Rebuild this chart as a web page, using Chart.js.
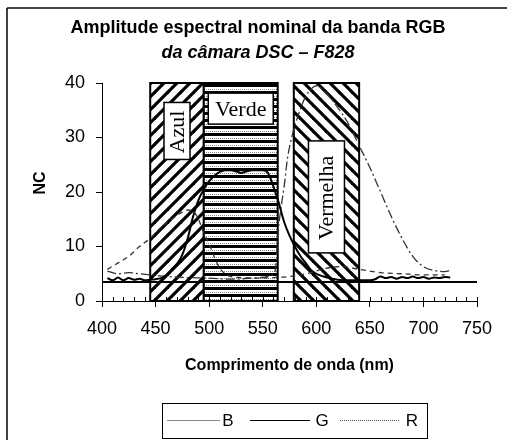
<!DOCTYPE html>
<html>
<head>
<meta charset="utf-8">
<script src="https://cdn.jsdelivr.net/npm/chart.js@4.4.0/dist/chart.umd.min.js"></script>
<style>
  html, body { margin: 0; padding: 0; background: #fff; }
</style>
</head>
<body>
<canvas id="myChart" width="507" height="440"></canvas>
<script>
// setup - values (nm / NC)
const wlB = [405, 415, 425, 435, 445, 455, 465, 475, 480, 485, 490, 495, 500, 505, 510, 515, 520, 530, 545, 560, 575, 585, 595, 605, 615, 625, 640, 650, 660, 680, 700, 720];
const ncB = [5.8, 7, 8.2, 10, 11.5, 13.5, 15, 16.3, 16.7, 16.5, 15, 12.5, 10.5, 8, 6, 5, 4.5, 4.3, 4.2, 4.3, 4.5, 4.8, 5.2, 5.8, 6.2, 6.3, 5.8, 5.5, 5.2, 5, 4.8, 4.8];

const wlG = [405, 410, 415, 420, 425, 430, 435, 440, 445, 450, 455, 460, 465, 470, 475, 480, 485, 490, 495, 500, 505, 510, 515, 520, 525, 530, 535, 540, 545, 550, 555, 560, 565, 570, 575, 580, 585, 590, 595, 600, 605, 610, 615, 620, 630, 640, 650, 655, 660, 665, 670, 675, 680, 685, 690, 695, 700, 705, 710, 715, 720, 725];
const ncG = [4.2, 3.8, 4.3, 3.8, 4.2, 3.9, 4.1, 3.8, 3.9, 4.0, 4.2, 4.7, 5.8, 6.8, 8.5, 11.5, 15.5, 18.5, 20.5, 22, 23, 23.7, 24, 24, 23.8, 23.5, 23.8, 24, 24, 24, 23.5, 21, 18, 14.5, 12, 10, 8.3, 7, 5.7, 5, 4.6, 4.3, 4.1, 3.9, 3.8, 3.8, 3.8, 4.0, 4.5, 4.2, 4.4, 4.1, 4.4, 4.2, 4.5, 4.2, 4.4, 4.1, 4.3, 4.2, 4.4, 4.3];

const wlR = [405, 415, 425, 435, 445, 460, 480, 500, 520, 540, 555, 560, 562, 564, 567, 570, 573, 577, 583, 590, 597, 600, 610, 620, 630, 640, 650, 660, 670, 680, 690, 700, 710, 720, 725];
const ncR = [5.5, 5, 5.2, 5, 4.8, 4.5, 4.3, 4.2, 4, 4.2, 4.5, 5, 6, 12, 17, 21, 26, 30, 34, 37.5, 39.2, 39.5, 38, 35.5, 32.5, 28.5, 24.5, 20, 15.5, 11.5, 8.2, 6.3, 5.6, 5.4, 5.6];

// constant reference line
const wlBase = [400, 750];
const ncBase = [3.5, 3.5];

// nominal bands
const bandNames = ['Azul', 'Verde', 'Vermelha'];
const bandFrom = [445, 495, 579];
const bandTo = [495, 564, 640];
// where the band label sits (nm, NC)
const bandLabelX = [470, 529.5, 609.5];
const bandLabelY = [31.2, 35.3, 19.1];

const seriesNames = ['B', 'G', 'R'];

const toPts = (xs, ys) => xs.map((x, i) => ({ x: x, y: ys[i] }));

// hatch patterns
function makePattern(kind) {
    const c = document.createElement('canvas');
    const ctx = c.getContext('2d');
    if (kind === 'horiz') {
        c.width = 8; c.height = 7;
        ctx.fillStyle = '#fff'; ctx.fillRect(0, 0, 8, 7);
        ctx.fillStyle = '#000'; ctx.fillRect(0, 0, 8, 3);
        ctx.fillStyle = '#888';
        for (let i = 0; i < 8; i += 2) ctx.fillRect(i, 5, 1, 1);
    } else {
        const p = 13;
        c.width = p; c.height = p;
        ctx.fillStyle = '#fff'; ctx.fillRect(0, 0, p, p);
        ctx.strokeStyle = '#000'; ctx.lineWidth = 3.2;
        for (let k = -1; k <= 1; k++) {
            ctx.beginPath();
            if (kind === 'slash') {
                ctx.moveTo(k * p - 1, p + 1); ctx.lineTo(k * p + p + 1, -1);
            } else {
                ctx.moveTo(k * p - 1, -1); ctx.lineTo(k * p + p + 1, p + 1);
            }
            ctx.stroke();
        }
    }
    return c;
}

const bandStyle = ['slash', 'horiz', 'back'];
const labelBox = [[26, 57], [65, 31], [36, 112]];
const labelVertical = [true, false, true];

const bandPlugin = {
    id: 'bands',
    beforeDatasetsDraw(chart) {
        const { ctx, scales: { x, y } } = chart;
        ctx.save();
        bandNames.forEach((name, i) => {
            const l = x.getPixelForValue(bandFrom[i]);
            const r = x.getPixelForValue(bandTo[i]);
            const t = y.getPixelForValue(40);
            const b = y.getPixelForValue(0);
            ctx.fillStyle = ctx.createPattern(makePattern(bandStyle[i]), 'repeat');
            ctx.fillRect(l, t, r - l, b - t);
            ctx.strokeStyle = '#000';
            ctx.lineWidth = 2;
            ctx.strokeRect(l, t, r - l, b - t);

            // label
            const cx = x.getPixelForValue(bandLabelX[i]);
            const cy = y.getPixelForValue(bandLabelY[i]);
            const [w, h] = labelBox[i];
            ctx.fillStyle = '#fff';
            ctx.fillRect(cx - w / 2, cy - h / 2, w, h);
            ctx.lineWidth = 1.5;
            ctx.strokeRect(cx - w / 2, cy - h / 2, w, h);
            ctx.fillStyle = '#000';
            ctx.font = '22px "Liberation Serif", "Times New Roman", serif';
            ctx.textAlign = 'center';
            ctx.textBaseline = 'middle';
            ctx.save();
            ctx.translate(cx, cy + 1);
            if (labelVertical[i]) ctx.rotate(-Math.PI / 2);
            ctx.fillText(name, 0, 1);
            ctx.restore();
        });
        ctx.restore();
    }
};

const decorPlugin = {
    id: 'decor',
    afterDraw(chart) {
        const { ctx, chartArea, scales: { x, y } } = chart;
        ctx.save();
        // outer frame (only top and left visible)
        ctx.strokeStyle = '#444'; ctx.lineWidth = 2;
        ctx.beginPath(); ctx.moveTo(7, 8); ctx.lineTo(507, 8); ctx.stroke();
        ctx.strokeStyle = '#000'; ctx.lineWidth = 1.5;
        ctx.beginPath(); ctx.moveTo(7, 8); ctx.lineTo(7, 440); ctx.stroke();

        // title
        ctx.fillStyle = '#000';
        ctx.textAlign = 'center';
        ctx.textBaseline = 'middle';
        ctx.font = 'bold 18px "Liberation Sans", Arial, sans-serif';
        ctx.fillText('Amplitude espectral nominal da banda RGB', 258, 28);
        ctx.font = 'italic bold 18px "Liberation Sans", Arial, sans-serif';
        ctx.fillText('da câmara DSC – F828', 258, 53);

        // axis titles
        ctx.font = 'bold 16px "Liberation Sans", Arial, sans-serif';
        ctx.fillText('Comprimento de onda (nm)', (chartArea.left + chartArea.right) / 2, 366);
        ctx.save();
        ctx.translate(41, 183);
        ctx.rotate(-Math.PI / 2);
        ctx.fillText('NC', 0, 0);
        ctx.restore();

        // minor ticks on x (every 10 nm, upward)
        ctx.strokeStyle = '#000'; ctx.lineWidth = 1;
        for (let v = x.min; v <= x.max; v += 10) {
            const px = Math.round(x.getPixelForValue(v)) + 0.5;
            ctx.beginPath(); ctx.moveTo(px, chartArea.bottom); ctx.lineTo(px, chartArea.bottom - 4); ctx.stroke();
        }

        // legend
        const lt = 403, lb = 438, ll = 162, lr = 427;
        ctx.strokeStyle = '#000'; ctx.lineWidth = 1;
        ctx.strokeRect(ll + 0.5, lt + 0.5, lr - ll, lb - lt);
        const ly = 420;
        const items = [
            { x0: 167, x1: 220, tx: 228, color: '#888', w: 1, dash: [] },
            { x0: 250, x1: 310, tx: 322, color: '#000', w: 1.2, dash: [] },
            { x0: 340, x1: 400, tx: 412, color: '#555', w: 1, dash: [1, 1] }
        ];
        ctx.font = '17px "Liberation Sans", Arial, sans-serif';
        items.forEach((it, i) => {
            ctx.strokeStyle = it.color; ctx.lineWidth = it.w; ctx.setLineDash(it.dash);
            ctx.beginPath(); ctx.moveTo(it.x0, ly + 0.5); ctx.lineTo(it.x1, ly + 0.5); ctx.stroke();
            ctx.setLineDash([]);
            ctx.fillStyle = '#000';
            ctx.fillText(seriesNames[i], it.tx, ly + 1);
        });
        ctx.restore();
    }
};

const data = {
    datasets: [{
        label: 'B',
        data: toPts(wlB, ncB),
        borderColor: '#333',
        borderWidth: 1.3,
        borderDash: [5, 4]
    }, {
        label: 'G',
        data: toPts(wlG, ncG),
        borderColor: '#000',
        borderWidth: 2
    }, {
        label: 'R',
        data: toPts(wlR, ncR),
        borderColor: '#333',
        borderWidth: 1.3,
        borderDash: [9, 3, 2, 3]
    }, {
        label: 'base',
        data: toPts(wlBase, ncBase),
        borderColor: '#000',
        borderWidth: 2
    }]
};

// config
const config = {
    type: 'line',
    data,
    options: {
        responsive: false,
        animation: false,
        devicePixelRatio: 1,
        layout: { padding: { left: 22, top: 83, right: 30, bottom: 39 } },
        elements: {
            point: { radius: 0 },
            line: { cubicInterpolationMode: 'monotone', fill: false }
        },
        plugins: {
            legend: { display: false },
            title: { display: false },
            tooltip: { enabled: false }
        },
        scales: {
            x: {
                type: 'linear',
                min: 400,
                max: 750,
                afterFit: s => { s.height = 100; },
                ticks: {
                    stepSize: 50,
                    padding: 11,
                    color: '#000',
                    font: { family: '"Liberation Sans", Arial, sans-serif', size: 18 }
                },
                grid: { drawOnChartArea: false, tickLength: 6, color: '#000' },
                border: { color: '#000', width: 1 }
            },
            y: {
                min: 0,
                max: 40,
                afterFit: s => { s.width = 80; },
                ticks: {
                    stepSize: 10,
                    padding: 11,
                    color: '#000',
                    font: { family: '"Liberation Sans", Arial, sans-serif', size: 18 }
                },
                grid: { drawOnChartArea: false, tickLength: 6, color: '#000' },
                border: { color: '#000', width: 1 }
            }
        }
    },
    plugins: [bandPlugin, decorPlugin]
};

// render init block
const myChart = new Chart(document.getElementById('myChart'), config);
</script>
</body>
</html>
